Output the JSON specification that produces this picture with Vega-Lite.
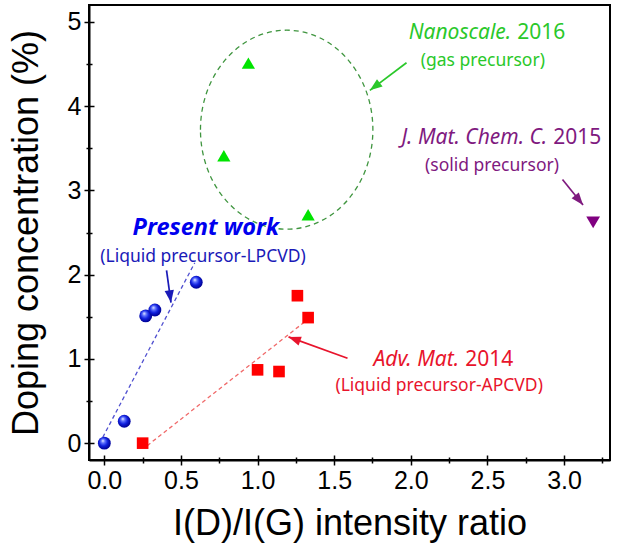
{
  "$schema": "https://vega.github.io/schema/vega-lite/v6.json",
  "width": 521,
  "height": 455,
  "autosize": "none",
  "padding": {"left": 89, "top": 5, "right": 14, "bottom": 86},
  "background": "white",
  "config": {"view": {"stroke": "black", "strokeWidth": 2}, "font": "Liberation Sans"},
  "datasets": {
    "blue": [{"x": 0, "y": 0}, {"x": 0.13, "y": 0.26}, {"x": 0.27, "y": 1.51}, {"x": 0.33, "y": 1.58}, {"x": 0.6, "y": 1.91}],
    "red": [{"x": 0.25, "y": 0}, {"x": 1.0, "y": 0.87}, {"x": 1.14, "y": 0.85}, {"x": 1.26, "y": 1.75}, {"x": 1.33, "y": 1.49}],
    "green": [{"x": 0.94, "y": 4.51}, {"x": 0.78, "y": 3.41}, {"x": 1.33, "y": 2.71}],
    "purple": [{"x": 3.19, "y": 2.62}],
    "fits": [
      {"series": "present", "x": -0.01, "y": 0.07, "x2": 0.59, "y2": 2.14},
      {"series": "adv", "x": 0.28, "y": -0.03, "x2": 1.315, "y2": 1.45}
    ],
    "group": [{"x": 1.19, "y": 3.72}],
    "arrows": [
      {"ref": "present", "x": 0.406, "y": 2.05, "x2": 0.435, "y2": 1.668},
      {"ref": "adv", "x": 1.587, "y": 1.008, "x2": 1.202, "y2": 1.261},
      {"ref": "nano", "x": 1.972, "y": 4.515, "x2": 1.733, "y2": 4.187},
      {"ref": "jmat", "x": 2.99, "y": 3.13, "x2": 3.124, "y2": 2.827}
    ],
    "heads": [
      {"ref": "present", "x": 0.435, "y": 1.668},
      {"ref": "adv", "x": 1.202, "y": 1.261},
      {"ref": "nano", "x": 1.733, "y": 4.187},
      {"ref": "jmat", "x": 3.124, "y": 2.827}
    ],
    "labels": [
      {"ref": "nano", "kind": "journal", "text": "Nanoscale.", "x": 2.675, "y": 4.87},
      {"ref": "nano", "kind": "year", "text": "2016", "x": 2.675, "y": 4.87},
      {"ref": "nano", "kind": "sub", "text": "(gas precursor)", "x": 2.47, "y": 4.54},
      {"ref": "jmat", "kind": "journal", "text": "J. Mat. Chem. C.", "x": 2.91, "y": 3.62},
      {"ref": "jmat", "kind": "year", "text": "2015", "x": 2.91, "y": 3.62},
      {"ref": "jmat", "kind": "sub", "text": "(solid precursor)", "x": 2.53, "y": 3.29},
      {"ref": "adv", "kind": "journal", "text": "Adv. Mat.", "x": 2.335, "y": 0.99},
      {"ref": "adv", "kind": "year", "text": "2014", "x": 2.335, "y": 0.99},
      {"ref": "adv", "kind": "sub", "text": "(Liquid precursor-APCVD)", "x": 2.185, "y": 0.68},
      {"ref": "present", "kind": "main", "text": "Present work", "x": 0.663, "y": 2.557},
      {"ref": "present", "kind": "sub", "text": "(Liquid precursor-LPCVD)", "x": 0.644, "y": 2.215}
    ]
  },
  "encoding": {
    "x": {"field": "x", "type": "quantitative", "scale": {"domain": [-0.1, 3.3], "nice": false, "zero": false}, "axis": null},
    "y": {"field": "y", "type": "quantitative", "scale": {"domain": [-0.2, 5.2], "nice": false, "zero": false}, "axis": null}
  },
  "resolve": {"axis": {"x": "independent", "y": "independent"}},
  "layer": [
    {
      "data": {"name": "group"},
      "mark": {"type": "point", "shape": "M -1 0 C -1 -0.6376 -0.5523 -1.1543 0 -1.1543 C 0.5523 -1.1543 1 -0.6376 1 0 C 1 0.6376 0.5523 1.1543 0 1.1543 C -0.5523 1.1543 -1 0.6376 -1 0 Z", "size": 29722, "filled": false, "color": "#3f953f", "strokeWidth": 1.3, "strokeDash": [5, 4], "opacity": 1}
    },
    {
      "data": {"name": "fits"},
      "transform": [{"filter": "datum.series === 'present'"}],
      "mark": {"type": "rule", "color": "#5050d0", "strokeWidth": 1.3, "strokeDash": [4, 3]},
      "encoding": {"x2": {"field": "x2"}, "y2": {"field": "y2"}}
    },
    {
      "data": {"name": "fits"},
      "transform": [{"filter": "datum.series === 'adv'"}],
      "mark": {"type": "rule", "color": "#f06a6a", "strokeWidth": 1.3, "strokeDash": [4, 3]},
      "encoding": {"x2": {"field": "x2"}, "y2": {"field": "y2"}}
    },
    {
      "data": {"name": "arrows"},
      "mark": {"type": "rule", "strokeWidth": 1.7},
      "encoding": {
        "x2": {"field": "x2"}, "y2": {"field": "y2"},
        "color": {"field": "ref", "type": "nominal", "legend": null, "scale": {"domain": ["present", "adv", "nano", "jmat"], "range": ["#1a1ab8", "#e8142c", "#2ac82a", "#7f1a7f"]}}
      }
    },
    {
      "data": {"name": "heads"},
      "transform": [{"filter": "datum.ref === 'present'"}],
      "mark": {"type": "point", "shape": "M 0 0 L 0.6 1.6 L -0.6 1.6 Z", "size": 240, "filled": true, "angle": 172, "opacity": 1},
      "encoding": {"color": {"field": "ref", "type": "nominal", "legend": null}}
    },
    {
      "data": {"name": "heads"},
      "transform": [{"filter": "datum.ref === 'adv'"}],
      "mark": {"type": "point", "shape": "M 0 0 L 0.6 1.6 L -0.6 1.6 Z", "size": 240, "filled": true, "angle": 290, "opacity": 1},
      "encoding": {"color": {"field": "ref", "type": "nominal", "legend": null}}
    },
    {
      "data": {"name": "heads"},
      "transform": [{"filter": "datum.ref === 'nano'"}],
      "mark": {"type": "point", "shape": "M 0 0 L 0.6 1.6 L -0.6 1.6 Z", "size": 240, "filled": true, "angle": 233, "opacity": 1},
      "encoding": {"color": {"field": "ref", "type": "nominal", "legend": null}}
    },
    {
      "data": {"name": "heads"},
      "transform": [{"filter": "datum.ref === 'jmat'"}],
      "mark": {"type": "point", "shape": "M 0 0 L 0.6 1.6 L -0.6 1.6 Z", "size": 240, "filled": true, "angle": 141, "opacity": 1},
      "encoding": {"color": {"field": "ref", "type": "nominal", "legend": null}}
    },
    {
      "data": {"name": "red"},
      "mark": {"type": "point", "shape": "square", "filled": true, "size": 135, "color": "#ff0000", "opacity": 1},
      "encoding": {
        "x": {"field": "x", "type": "quantitative", "scale": {"domain": [-0.1, 3.3], "nice": false, "zero": false},
          "axis": {"orient": "bottom", "values": [0, 0.25, 0.5, 0.75, 1, 1.25, 1.5, 1.75, 2, 2.25, 2.5, 2.75, 3, 3.25], "labels": false, "domain": false, "title": null, "grid": false, "tickColor": "black", "tickWidth": 1.5, "tickSize": {"condition": {"test": "datum.value % 0.5 !== 0", "value": -3}, "value": -5}}},
        "y": {"field": "y", "type": "quantitative", "scale": {"domain": [-0.2, 5.2], "nice": false, "zero": false},
          "axis": {"orient": "left", "values": [0, 0.5, 1, 1.5, 2, 2.5, 3, 3.5, 4, 4.5, 5], "labels": false, "domain": false, "title": null, "grid": false, "tickColor": "black", "tickWidth": 1.5, "tickSize": {"condition": {"test": "datum.value % 1 !== 0", "value": -3}, "value": -5}}}
      }
    },
    {
      "data": {"name": "green"},
      "mark": {"type": "point", "shape": "triangle-up", "filled": true, "size": 175, "color": "#00e400", "opacity": 1}
    },
    {
      "data": {"name": "purple"},
      "mark": {"type": "point", "shape": "triangle-down", "filled": true, "size": 190, "color": "#800080", "opacity": 1}
    },
    {
      "data": {"name": "blue"},
      "mark": {"type": "point", "shape": "circle", "filled": true, "size": 165, "opacity": 1, "strokeWidth": 0,
        "fill": {"gradient": "radial", "x1": 0.38, "y1": 0.3, "r1": 0, "x2": 0.45, "y2": 0.45, "r2": 0.55,
          "stops": [{"offset": 0, "color": "#ffffff"}, {"offset": 0.25, "color": "#6a7dff"}, {"offset": 0.6, "color": "#1020e0"}, {"offset": 1, "color": "#000090"}]}},
      "encoding": {
        "x": {"field": "x", "type": "quantitative", "scale": {"domain": [-0.1, 3.3], "nice": false, "zero": false},
          "axis": {"orient": "bottom", "title": "I(D)/I(G) intensity ratio", "values": [0, 0.25, 0.5, 0.75, 1, 1.25, 1.5, 1.75, 2, 2.25, 2.5, 2.75, 3, 3.25],
            "labelExpr": "datum.value % 0.5 === 0 ? format(datum.value, '.1f') : ''", "labelFont": "Liberation Sans", "labelFontSize": 25, "labelColor": "black", "labelPadding": 3, "labelOverlap": false, "labelFlush": false,
            "titleFont": "Liberation Sans", "titleFontSize": 36, "titleFontWeight": "normal", "titleColor": "black", "titlePadding": 13,
            "tickColor": "black", "tickWidth": 1.5, "tickSize": {"condition": {"test": "datum.value % 0.5 !== 0", "value": 3}, "value": 5},
            "domainColor": "black", "domainWidth": 2, "grid": false}},
        "y": {"field": "y", "type": "quantitative", "scale": {"domain": [-0.2, 5.2], "nice": false, "zero": false},
          "axis": {"orient": "left", "title": "Doping concentration (%)", "values": [0, 0.5, 1, 1.5, 2, 2.5, 3, 3.5, 4, 4.5, 5],
            "labelExpr": "datum.value % 1 === 0 ? format(datum.value, 'd') : ''", "labelFont": "Liberation Sans", "labelFontSize": 25, "labelColor": "black", "labelPadding": 3, "labelOverlap": false, "labelFlush": false,
            "titleFont": "Liberation Sans", "titleFontSize": 36, "titleFontWeight": "normal", "titleColor": "black", "titlePadding": 22,
            "tickColor": "black", "tickWidth": 1.5, "tickSize": {"condition": {"test": "datum.value % 1 !== 0", "value": 3}, "value": 5},
            "domainColor": "black", "domainWidth": 2, "grid": false}}
      }
    },
    {
      "data": {"name": "labels"},
      "transform": [{"filter": "datum.kind === 'journal'"}],
      "mark": {"type": "text", "font": "Noto Sans", "fontSize": 21, "fontStyle": "italic", "align": "right", "baseline": "middle", "dx": -3},
      "encoding": {"text": {"field": "text"}, "color": {"field": "ref", "type": "nominal", "legend": null}}
    },
    {
      "data": {"name": "labels"},
      "transform": [{"filter": "datum.kind === 'year'"}],
      "mark": {"type": "text", "font": "Noto Sans", "fontSize": 21, "align": "left", "baseline": "middle", "dx": 3},
      "encoding": {"text": {"field": "text"}, "color": {"field": "ref", "type": "nominal", "legend": null}}
    },
    {
      "data": {"name": "labels"},
      "transform": [{"filter": "datum.kind === 'sub'"}],
      "mark": {"type": "text", "font": "Noto Sans", "fontSize": 17.5, "align": "center", "baseline": "middle"},
      "encoding": {"text": {"field": "text"}, "color": {"field": "ref", "type": "nominal", "legend": null}}
    },
    {
      "data": {"name": "labels"},
      "transform": [{"filter": "datum.kind === 'main'"}],
      "mark": {"type": "text", "font": "Noto Sans", "fontSize": 23.5, "fontStyle": "italic", "fontWeight": "bold", "align": "center", "baseline": "middle", "color": "#0000ee"},
      "encoding": {"text": {"field": "text"}}
    }
  ]
}
